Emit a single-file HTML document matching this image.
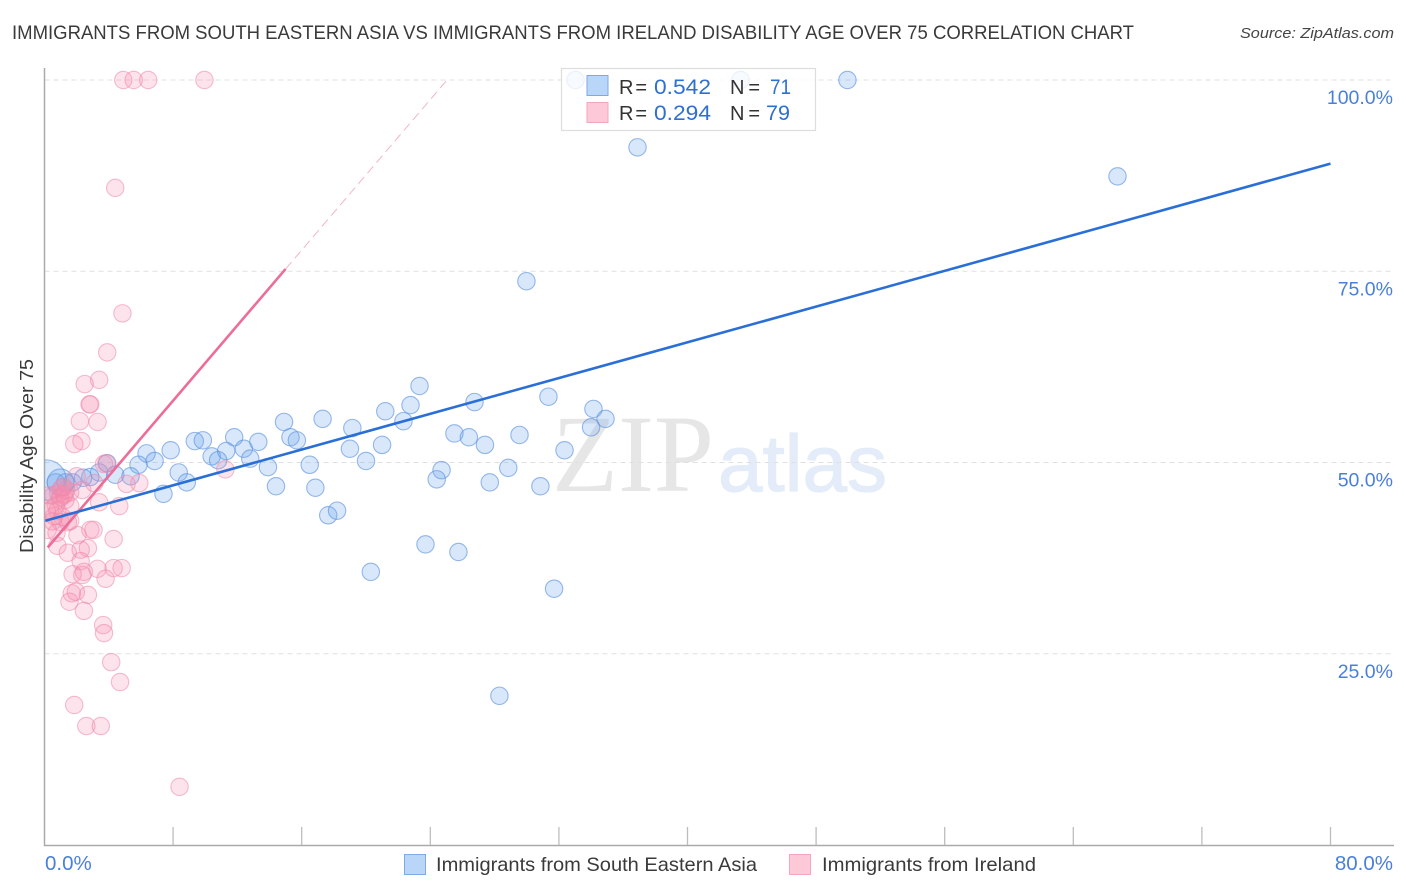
<!DOCTYPE html>
<html lang="en">
<head>
<meta charset="utf-8">
<title>Immigrants from South Eastern Asia vs Immigrants from Ireland Disability Age Over 75 Correlation Chart</title>
<style>
html,body{margin:0;padding:0;background:#fff;width:1406px;height:892px;overflow:hidden}
svg{display:block;font-family:"Liberation Sans",sans-serif}
</style>
</head>
<body>
<svg id="chart" xmlns="http://www.w3.org/2000/svg" width="1406" height="892" viewBox="0 0 1406 892">
  <defs>
    <clipPath id="plot-clip"><rect x="44.5" y="60" width="1350" height="785"/></clipPath>
  </defs>
  <text x="12" y="39" font-size="19.5" fill="#3a3a3a" textLength="1122" lengthAdjust="spacingAndGlyphs">IMMIGRANTS FROM SOUTH EASTERN ASIA VS IMMIGRANTS FROM IRELAND DISABILITY AGE OVER 75 CORRELATION CHART</text>
  <text x="1394" y="38" font-size="15" font-style="italic" fill="#444" text-anchor="end" textLength="154" lengthAdjust="spacingAndGlyphs">Source: ZipAtlas.com</text>

  <g id="watermark">
    <text x="552" y="491" font-family="'Liberation Serif',serif" font-size="110" fill="#e6e6e6" textLength="162" lengthAdjust="spacingAndGlyphs">ZIP</text>
    <text x="718" y="491" font-size="80" fill="#e4ecf9" stroke="#e4ecf9" stroke-width="1.2" textLength="169" lengthAdjust="spacingAndGlyphs">atlas</text>
  </g>

  <g id="grid"></g>
  <g id="axes"></g>
  <g id="points" clip-path="url(#plot-clip)"></g>
  <g id="trends" clip-path="url(#plot-clip)"></g>
  <g id="tick-labels"></g>

  <text transform="translate(33,456) rotate(-90)" font-size="18.5" fill="#3a3a3a" text-anchor="middle" textLength="194" lengthAdjust="spacingAndGlyphs">Disability Age Over 75</text>

  <g>
    <rect x="561.5" y="68.5" width="254" height="62" fill="#fff" fill-opacity="0.8" stroke="#ddd" stroke-width="1.2"/>
    <rect x="587" y="75.5" width="21" height="20" fill="#b9d5f8" stroke="#7fa9e2"/>
    <rect x="587" y="102.5" width="21" height="20" fill="#fdc8d8" stroke="#f3a6bd"/>
    <text x="619" y="94" font-size="20" fill="#333" textLength="28" lengthAdjust="spacing">R =</text>
    <text x="654" y="94" font-size="21.5" fill="#2f6fd0" textLength="57" lengthAdjust="spacingAndGlyphs">0.542</text>
    <text x="730" y="94" font-size="20" fill="#333" textLength="30" lengthAdjust="spacing">N =</text>
    <text x="770" y="94" font-size="21.5" fill="#2f6fd0" textLength="21" lengthAdjust="spacingAndGlyphs">71</text>
    <text x="619" y="120" font-size="20" fill="#333" textLength="28" lengthAdjust="spacing">R =</text>
    <text x="654" y="120" font-size="21.5" fill="#2f6fd0" textLength="57" lengthAdjust="spacingAndGlyphs">0.294</text>
    <text x="730" y="120" font-size="20" fill="#333" textLength="30" lengthAdjust="spacing">N =</text>
    <text x="766" y="120" font-size="21.5" fill="#2f6fd0" textLength="24" lengthAdjust="spacingAndGlyphs">79</text>
  </g>

  <g>
    <rect x="404.5" y="854.5" width="21" height="20" fill="#b9d5f8" stroke="#7fa9e2"/>
    <text x="436" y="871" font-size="19.5" fill="#3a3a3a" textLength="321" lengthAdjust="spacingAndGlyphs">Immigrants from South Eastern Asia</text>
    <rect x="789.5" y="854.5" width="21" height="20" fill="#fdc8d8" stroke="#f3a6bd"/>
    <text x="822" y="871" font-size="19.5" fill="#3a3a3a" textLength="214" lengthAdjust="spacingAndGlyphs">Immigrants from Ireland</text>
  </g>
</svg>
<script>
const yTickValues = [25, 50, 75, 100];
const yTickLabels = ["25.0%", "50.0%", "75.0%", "100.0%"];
const xTickValues = [0, 8, 16, 24, 32, 40, 48, 56, 64, 72, 80];
const xEndLabels = ["0.0%", "80.0%"];

const blueX = [33.03,43.3,49.95,36.89,66.75,29.98,23.33,22.77,21.2,22.33,26.75,31.35,34.15,34.9,34.0,25.5,26.4,27.4,29.55,32.35,17.3,14.9,15.3,15.7,19.15,19.0,21.0,20.0,16.5,13.9,14.4,16.85,17.65,18.2,24.7,24.4,27.7,28.85,30.85,23.7,25.75,20.3,31.7,28.3,6.35,6.85,7.85,9.35,9.85,11.8,13.3,12.4,11.3,10.4,10.8,12.8,8.35,8.85,7.4,5.85,3.9,3.4,4.4,5.35,2.85,2.4,1.75,1.3,0.7,1.0,0.1];
const blueY = [100,100,100,91.2,87.4,73.7,60.0,57.5,56.7,55.4,57.9,58.6,57.0,55.7,54.6,53.8,53.3,52.3,53.6,51.6,55.7,55.3,53.3,52.9,54.5,51.8,52.3,50.2,49.7,49.4,46.9,46.7,43.1,43.7,49.0,47.8,47.4,49.3,46.9,39.3,38.3,35.7,33.5,19.5,51.2,50.2,51.6,52.8,52.9,53.3,52.7,51.8,51.5,50.8,50.3,50.5,48.7,47.4,45.9,49.7,49.9,48.7,48.4,48.2,48.1,48.0,47.4,47.4,47.4,47.4,47.7];
const blueWeight = [1,1,1,1,1,1,1,1,1,1,1,1,1,1,1,1,1,1,1,1,1,1,1,1,1,1,1,1,1,1,1,1,1,1,1,1,1,1,1,1,1,1,1,1,1,1,1,1,1,1,1,1,1,1,1,1,1,1,1,1,1,1,1,1,1,1,1,1,1,2.4,5.4];

const pinkX = [4.9,5.55,6.45,9.95,4.4,4.85,3.9,2.5,3.4,2.8,2.85,2.2,3.3,2.3,1.85,11.25,3.85,3.7,2.0,5.9,5.1,4.65,3.4,2.35,3.1,0.25,0.55,0.85,1.2,1.35,1.6,1.0,0.7,0.35,0.8,1.1,1.6,0.5,1.45,1.0,0.2,0.75,1.6,2.85,3.05,2.05,4.3,0.8,1.45,2.25,2.7,2.25,2.45,1.75,2.35,3.3,4.3,4.8,3.8,2.7,1.55,1.7,1.95,2.45,3.65,3.7,4.15,4.7,1.85,2.6,3.5,8.4,1.05,1.25,0.95,0.6,1.3,0.15,1.15];
const pinkY = [100,100,100,100,85.9,69.5,64.4,60.25,60.8,57.6,57.6,55.4,55.3,52.8,52.4,49.1,49.9,49.8,48.2,47.3,47.2,44.3,44.8,46.4,47.3,45.7,45.7,46.0,45.7,46.4,46.1,45.5,44.4,43.8,43.7,42.9,44.3,42.3,42.2,42.2,41.2,40.8,42.35,41.2,41.2,40.5,40.0,39.1,38.2,38.6,38.8,37.1,35.7,35.4,35.3,36.1,36.2,36.2,34.8,32.7,31.8,32.9,33.1,30.6,28.75,27.7,23.9,21.3,18.3,15.55,15.55,7.6,46.6,45.9,45.3,43.0,45.1,43.6,46.8];

const blueTrendIntercept = 42.35;
const blueTrendSlope = 0.584;
const blueTrendRange = [0.05, 80];
const pinkTrendIntercept = 38.4;
const pinkTrendSlope = 2.46;
const pinkTrendSolid = [0.2, 15.0];
const pinkTrendDashed = [15.0, 25];

const NS = "http://www.w3.org/2000/svg";
function xScale(v){ return 44.5 + v * (1286 / 80); }
function yScale(v){ return 845 - v * 7.65; }
function make(parent, tag, attrs, text){
  const el = document.createElementNS(NS, tag);
  for (const k in attrs) el.setAttribute(k, attrs[k]);
  if (text !== undefined) el.textContent = text;
  document.getElementById(parent).appendChild(el);
  return el;
}

/* gridlines */
yTickValues.forEach(function(v){
  const line = make("grid", "line", {x1:44.5, x2:1394, y1:yScale(v), y2:yScale(v), stroke:"#e0e0e0", "stroke-width":1, "stroke-dasharray":"5 4"});
  
  
});

/* axes */
const yAxis = make("axes", "line", {x1:44.5, x2:44.5, y1:68, y2:846, stroke:"#aaa", "stroke-width":1.5});


const xAxis = make("axes", "line", {x1:44, x2:1394, y1:845.5, y2:845.5, stroke:"#aaa", "stroke-width":1.5});


xTickValues.slice(1).forEach(function(v){
  const tick = make("axes", "line", {x1:xScale(v), x2:xScale(v), y1:827, y2:845, stroke:"#bdbdbd", "stroke-width":1.3});
  
  
});

/* tick labels */
yTickLabels.forEach(function(label, i){
  const t = make("tick-labels", "text", {x:1393, y:yScale(yTickValues[i]) + 24, "font-size":19.5, fill:"#4a80da", "text-anchor":"end"}, label);
  
  
});
const xLabelLeft = make("tick-labels", "text", {x:45, y:870, "font-size":20.5, fill:"#4a80da"}, xEndLabels[0]);


const xLabelRight = make("tick-labels", "text", {x:1393, y:870, "font-size":20.5, fill:"#4a80da", "text-anchor":"end"}, xEndLabels[1]);



/* points */
blueX.forEach(function(v, i){
  const c = make("points", "circle", {cx:xScale(v), cy:yScale(blueY[i]), r:8.7 * Math.sqrt(blueWeight[i]) , fill:"#6ea6ee", "fill-opacity":0.27, stroke:"#5a90de", "stroke-opacity":0.62, "stroke-width":1.1});
  
  
});
pinkX.forEach(function(v, i){
  const c = make("points", "circle", {cx:xScale(v), cy:yScale(pinkY[i]), r:8.7, fill:"#f78fb0", "fill-opacity":0.24, stroke:"#ee86a8", "stroke-opacity":0.55, "stroke-width":1.1});
  
  
});

/* trend lines */
function trendLine(range, intercept, slope, attrs, name){
  const line = make("trends", "line", Object.assign({
    x1:xScale(range[0]), x2:xScale(range[1]),
    y1:yScale(intercept + slope * range[0]), y2:yScale(intercept + slope * range[1])
  }, attrs));
  
  
}
trendLine(pinkTrendSolid, pinkTrendIntercept, pinkTrendSlope, {stroke:"#ec6d98", "stroke-width":2.6}, 'trend-line-ireland');
trendLine(pinkTrendDashed, pinkTrendIntercept, pinkTrendSlope, {stroke:"#f2b5c9", "stroke-width":1, "stroke-dasharray":"9 5"}, 'trend-line-ireland-extrapolated');
trendLine(blueTrendRange, blueTrendIntercept, blueTrendSlope, {stroke:"#2a6fd6", "stroke-width":2.6}, 'trend-line-south-eastern-asia');
</script>
</body>
</html>
